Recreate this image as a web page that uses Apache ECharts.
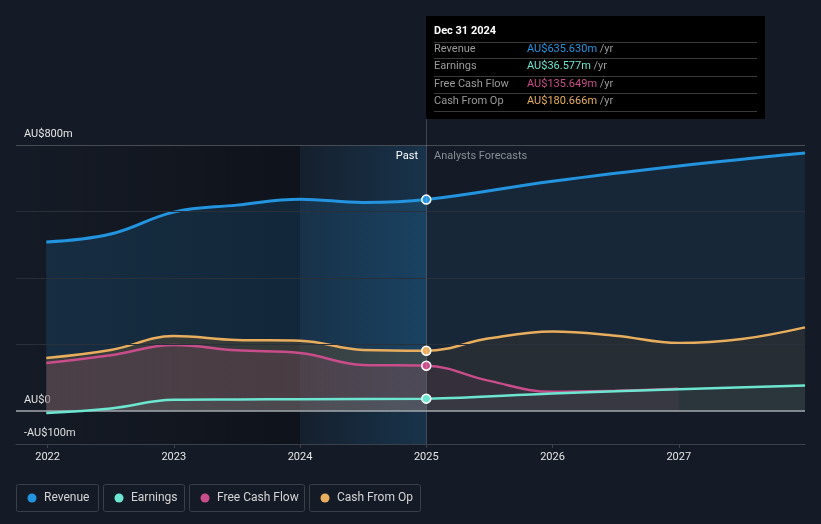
<!DOCTYPE html>
<html>
<head>
<meta charset="utf-8">
<script src="https://cdn.jsdelivr.net/npm/echarts@6/dist/echarts.min.js"></script>
<style>
html,body{margin:0;padding:0;background:#151b26;}
#c{width:821px;height:524px;}
</style>
</head>
<body>
<div id="c"></div>
<script>
// ---- data ----
const revenueYears = [2021.99, 2022.5, 2023.0, 2023.5, 2024.0, 2024.5, 2025.0, 2026.0, 2027.0, 2028.0];
const revenue = [508, 532, 598, 619, 637, 627, 635.63, 691, 737, 776];
const earningsYears = [2021.99, 2022.5, 2023.0, 2023.5, 2024.0, 2025.0, 2026.0, 2027.0, 2028.0];
const earnings = [-7, 7, 33, 34, 35, 36.577, 52, 65, 76];
const fcfYears = [2021.99, 2022.5, 2023.0, 2023.5, 2024.0, 2024.5, 2025.0, 2025.5, 2026.0, 2026.5, 2027.0];
const fcf = [144, 167, 198, 182, 174, 138, 135.649, 90, 57, 60, 66];
const cfoYears = [2021.99, 2022.5, 2023.0, 2023.5, 2024.0, 2024.5, 2025.0, 2025.5, 2026.0, 2026.5, 2027.0, 2027.5, 2028.0];
const cfo = [159, 183, 225, 213, 211, 183, 180.666, 218, 239, 226, 204, 216, 251];

const xTickYears = [2022, 2023, 2024, 2025, 2026, 2027];
const yLabelValues = [800, 0, -100];
const tooltipDate = 'Dec 31 2024';
const tooltipRows = [
  ['Revenue', 'AU$635.630m', '#2394df'],
  ['Earnings', 'AU$36.577m', '#6ce5d1'],
  ['Free Cash Flow', 'AU$135.649m', '#c94d8a'],
  ['Cash From Op', 'AU$180.666m', '#e8ad5d']
];
const legendNames = ['Revenue', 'Earnings', 'Free Cash Flow', 'Cash From Op'];
const colors = ['#2394df', '#6ce5d1', '#c94d8a', '#e8ad5d'];
const nowYear = 2025.0;
const xMin = 2021.75, xMax = 2028;

function build(xs, vs) {
  return xs.map((x, i) => x === nowYear
    ? { value: [x, vs[i]], symbol: 'circle', symbolSize: 9 }
    : [x, vs[i]]);
}
function hgrad(xs, a, b) {
  const split = (nowYear - xs[0]) / (xs[xs.length - 1] - xs[0]);
  return new echarts.graphic.LinearGradient(0, 0, 1, 0, [
    { offset: 0, color: a }, { offset: split, color: a },
    { offset: split, color: b }, { offset: 1, color: b }
  ]);
}

const chart = echarts.init(document.getElementById('c'));
const font = 'Roboto, "Noto Sans", sans-serif';

function lineSeries(name, xs, vs, color, width, a, b, z) {
  return {
    name, type: 'line', data: build(xs, vs), smooth: 0.4,
    showSymbol: true, symbol: 'none', z,
    lineStyle: { color, width },
    itemStyle: { color, borderColor: '#ffffff', borderWidth: 1.5 },
    areaStyle: { color: hgrad(xs, a, b), origin: 0 },
    emphasis: { disabled: true }, silent: true
  };
}

const option = {
  backgroundColor: '#151b26',
  animation: false,
  grid: { left: 16, right: 16, top: 145, bottom: 80 },
  xAxis: {
    type: 'value', min: xMin, max: xMax,
    axisLine: { onZero: false, lineStyle: { color: '#3b414b', width: 1 } },
    axisTick: { show: true, customValues: xTickYears, length: 4, lineStyle: { color: '#3b414b' } },
    axisLabel: { customValues: xTickYears, formatter: v => String(Math.round(v)), color: '#e6e6e6', fontSize: 11, fontFamily: font, margin: 8 },
    splitLine: { show: false }
  },
  yAxis: {
    type: 'value', min: -100, max: 800, interval: 100,
    axisLine: { show: false }, axisTick: { show: false },
    splitLine: { show: false },
    axisLabel: {
      inside: true, margin: 8, color: '#e6e6e6', fontSize: 11, fontFamily: font,
      verticalAlign: 'bottom', padding: [0, 0, 5, 0],
      formatter: v => yLabelValues.indexOf(v) < 0 ? '' : (v < 0 ? '-AU$' + Math.abs(v) + 'm' : (v === 0 ? 'AU$0' : 'AU$' + v + 'm'))
    }
  },
  series: [
    {
      type: 'line', data: [], silent: true, z: 0,
      markArea: {
        silent: true,
        data: [
          [{ xAxis: xMin, itemStyle: { color: new echarts.graphic.LinearGradient(0, 0, 1, 0, [{ offset: 0, color: 'rgba(0,0,0,0)' }, { offset: 1, color: 'rgba(0,0,0,0.3)' }]) } }, { xAxis: 2024 }],
          [{ xAxis: 2024, itemStyle: { color: new echarts.graphic.LinearGradient(0, 0, 1, 0, [{ offset: 0, color: 'rgba(35,148,223,0.04)' }, { offset: 1, color: 'rgba(35,148,223,0.2)' }]) } }, { xAxis: nowYear }]
        ]
      },
      markLine: {
        silent: true, symbol: 'none', label: { show: false },
        data: [
          { yAxis: 200, lineStyle: { color: '#2a303a', width: 1, type: 'solid' } },
          { yAxis: 400, lineStyle: { color: '#2a303a', width: 1, type: 'solid' } },
          { yAxis: 600, lineStyle: { color: '#2a303a', width: 1, type: 'solid' } },
          { yAxis: 800, lineStyle: { color: '#474c54', width: 1, type: 'solid' } },
          { xAxis: nowYear, lineStyle: { color: 'rgba(255,255,255,0.18)', width: 1, type: 'solid' } }
        ]
      }
    },
    lineSeries('Revenue', revenueYears, revenue, colors[0], 3, 'rgba(35,148,223,0.22)', 'rgba(35,148,223,0.14)', 2),
    lineSeries('Cash From Op', cfoYears, cfo, colors[3], 2.5, 'rgba(100,84,54,0.6)', 'rgba(61,53,45,0.6)', 3),
    lineSeries('Free Cash Flow', fcfYears, fcf, colors[2], 2.5, 'rgba(201,77,138,0.2)', 'rgba(201,77,138,0.12)', 4),
    lineSeries('Earnings', earningsYears, earnings, colors[1], 2.5, 'rgba(108,229,209,0.1)', 'rgba(108,229,209,0.07)', 5),
    {
      type: 'line', data: [], silent: true, z: 6,
      markLine: {
        silent: true, symbol: 'none', label: { show: false },
        data: [{ yAxis: 0, lineStyle: { color: '#a4a8ae', width: 1.5, type: 'solid' } }]
      }
    }
  ]
};
chart.setOption(option);

// overlay graphics: tooltip box, past/forecast labels, legend
const nx = chart.convertToPixel({ gridIndex: 0 }, [nowYear, 800]);
const lineX = Math.round(nx[0]);
const topY = nx[1];
const g = [];
g.push({ type: 'line', shape: { x1: lineX + 0.5, y1: 16, x2: lineX + 0.5, y2: topY }, style: { stroke: 'rgba(255,255,255,0.18)', lineWidth: 1 }, z: 10 });
g.push({ type: 'rect', shape: { x: lineX, y: 16, width: 339, height: 103 }, style: { fill: '#000000' }, z: 20 });
g.push({ type: 'text', x: lineX + 8, y: 31, style: { text: tooltipDate, fill: '#ffffff', font: 'bold 11px ' + font, verticalAlign: 'middle' }, z: 21 });
const rowY = [49, 66, 84, 101];
const sepY = [42, 58, 76, 93, 111];
sepY.forEach(y => g.push({ type: 'line', shape: { x1: lineX + 8, y1: y + 0.5, x2: lineX + 331, y2: y + 0.5 }, style: { stroke: '#3a3a3a', lineWidth: 1 }, z: 21 }));
tooltipRows.forEach((r, i) => {
  g.push({ type: 'text', x: lineX + 8, y: rowY[i], style: { text: r[0], fill: '#9a9a9a', font: '11px ' + font, verticalAlign: 'middle' }, z: 21 });
  g.push({ type: 'text', x: lineX + 101, y: rowY[i], style: {
    text: '{v|' + r[1] + '} {u|/yr}', verticalAlign: 'middle', font: '11px ' + font,
    rich: { v: { fill: r[2], font: '11px ' + font }, u: { fill: '#9a9a9a', font: '11px ' + font } }
  }, z: 21 });
});
g.push({ type: 'text', x: lineX - 8, y: 156, style: { text: 'Past', fill: '#ffffff', font: '11px ' + font, align: 'right', verticalAlign: 'middle' }, z: 10 });
g.push({ type: 'text', x: lineX + 8, y: 156, style: { text: 'Analysts Forecasts', fill: '#8a8f96', font: '11px ' + font, align: 'left', verticalAlign: 'middle' }, z: 10 });

const legBoxes = [[16, 82], [103, 81], [189, 115], [309, 111]];
legendNames.forEach((n, i) => {
  const [bx, bw] = legBoxes[i];
  g.push({ type: 'rect', shape: { x: bx + 0.5, y: 484.5, width: bw, height: 27, r: 2 }, style: { fill: 'none', stroke: '#3a404a', lineWidth: 1 }, z: 10 });
  g.push({ type: 'circle', shape: { cx: bx + 16, cy: 498, r: 4.5 }, style: { fill: colors[i] }, z: 11 });
  g.push({ type: 'text', x: bx + 28, y: 498, style: { text: n, fill: '#d4d4d4', font: '12px ' + font, verticalAlign: 'middle' }, z: 11 });
});
chart.setOption({ graphic: g });
</script>
</body>
</html>
